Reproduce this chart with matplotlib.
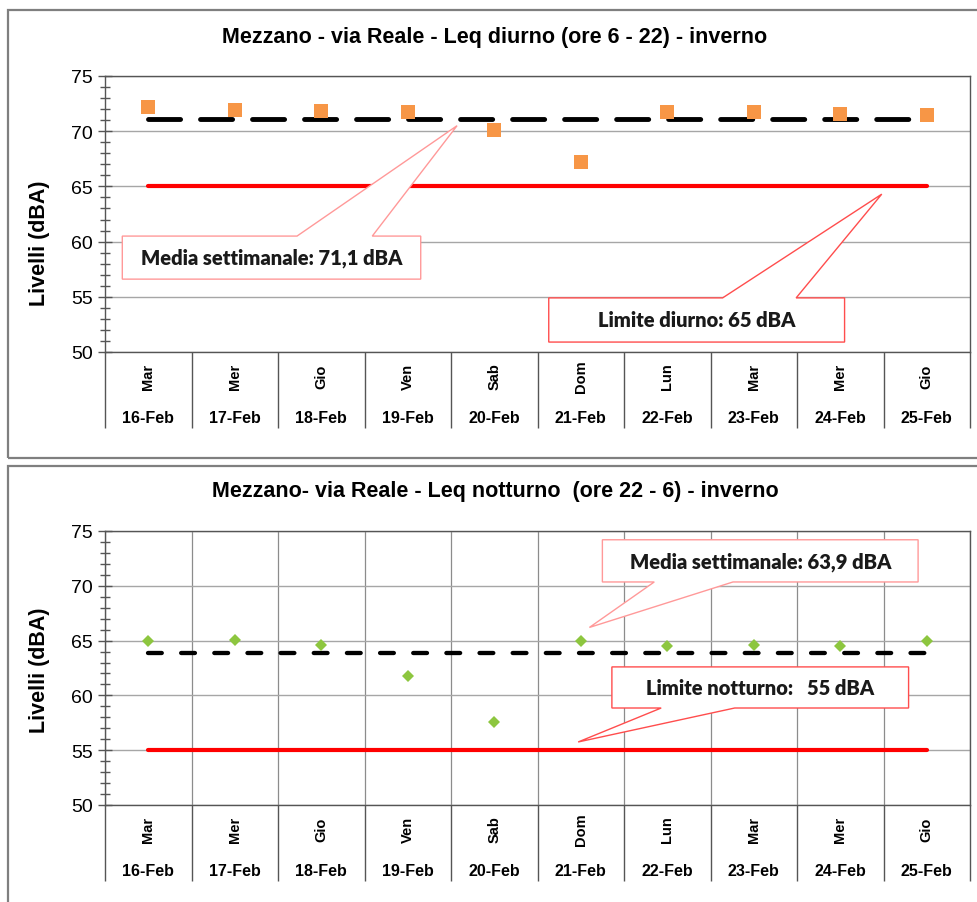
import matplotlib
matplotlib.use("Agg")
import matplotlib.pyplot as plt
from matplotlib.patches import Polygon, Rectangle
from matplotlib.ticker import MultipleLocator, FixedLocator, NullFormatter

# --- dati ---
giorni = ["Mar", "Mer", "Gio", "Ven", "Sab", "Dom", "Lun", "Mar", "Mer", "Gio"]
date = ["16-Feb", "17-Feb", "18-Feb", "19-Feb", "20-Feb",
        "21-Feb", "22-Feb", "23-Feb", "24-Feb", "25-Feb"]

leq_diurno = [72.2, 71.9, 71.8, 71.7, 70.1, 67.2, 71.7, 71.7, 71.6, 71.5]
leq_notturno = [65.0, 65.1, 64.6, 61.8, 57.6, 65.0, 64.5, 64.6, 64.5, 65.0]

media_diurno = 71.1
media_notturno = 63.9
limite_diurno = 65
limite_notturno = 55

W, H = 978, 903
GRID = "#a6a6a6"
AXC = "#7f7f7f"


def fig_xy(px, py):
    return px / W, 1 - py / H


def callout(ax, box, base, tip, side, text, ec):
    x0, x1, yb, yt = box
    if side == "top":
        verts = [(x0, yb), (x1, yb), (x1, yt), (base[1], yt), tip,
                 (base[0], yt), (x0, yt)]
    else:
        verts = [(x0, yb), (base[0], yb), tip, (base[1], yb), (x1, yb),
                 (x1, yt), (x0, yt)]
    ax.add_patch(Polygon(verts, closed=True, facecolor="white",
                         edgecolor=ec, linewidth=1.0, zorder=6))
    ax.text((x0 + x1) / 2, (yb + yt) / 2, text, ha="center", va="center",
            fontsize=14.5, fontweight="heavy", family="Lato", color="#1a1a1a",
            zorder=7)


def setup_axes(ax, vgrid):
    n = len(giorni)
    ax.set_xlim(-0.5, n - 0.5)
    ax.set_ylim(50, 75)
    ax.yaxis.set_major_locator(MultipleLocator(5))
    ax.yaxis.set_minor_locator(MultipleLocator(1))
    ax.tick_params(axis="y", which="major", direction="inout", length=10,
                   width=1, color="#555555", labelsize=14, pad=4)
    ax.tick_params(axis="y", which="minor", direction="inout", length=7,
                   width=1, color="#555555")
    for lab in ax.get_yticklabels():
        lab.set_family("Liberation Sans")

    # separatori tra i giorni sotto l'asse
    bounds = [i - 0.5 for i in range(n + 1)]
    ax.xaxis.set_major_locator(FixedLocator(bounds))
    ax.xaxis.set_major_formatter(NullFormatter())
    ax.tick_params(axis="x", which="major", direction="out", length=55,
                   width=1, color="#555555")

    ax.set_axisbelow(True)
    ax.yaxis.grid(True, color=GRID, linewidth=1.0)
    if vgrid:
        ax.xaxis.grid(True, color="#8c8c8c", linewidth=0.9)
    for s in ax.spines.values():
        s.set_color("#555555")
        s.set_linewidth(1.0)

    for i, (g, d) in enumerate(zip(giorni, date)):
        ax.annotate(g, xy=(i, 0), xycoords=("data", "axes fraction"),
                    xytext=(0, -17), textcoords="offset points",
                    ha="center", va="center", rotation=90,
                    fontsize=10.5, fontweight="bold", family="Liberation Sans")
        ax.annotate(d, xy=(i, 0), xycoords=("data", "axes fraction"),
                    xytext=(0, -47), textcoords="offset points",
                    ha="center", va="center",
                    fontsize=11.5, fontweight="bold", family="Liberation Sans")


def main():
    fig = plt.figure(figsize=(W / 100, H / 100), dpi=100)

    # cornici dei due pannelli
    for (px0, py0, px1, py1) in [(8, 11, 990, 459), (8, 467, 990, 920)]:
        x0, y1 = fig_xy(px0, py0)
        x1, y0 = fig_xy(px1, py1)
        fig.add_artist(Rectangle((x0, y0), x1 - x0, y1 - y0,
                                 transform=fig.transFigure, fill=False,
                                 edgecolor=AXC, linewidth=1.6))

    x = list(range(len(giorni)))
    xl = [x[0], x[-1]]

    # --- diurno ---
    ax1 = fig.add_axes([105 / W, 1 - 353 / H, 865 / W, 276 / H])
    setup_axes(ax1, vgrid=False)
    ax1.plot(xl, [limite_diurno] * 2, color="red", lw=3,
             solid_capstyle="round", zorder=3)
    ax1.plot(xl, [media_diurno] * 2, color="black", lw=3.5,
             dashes=(6.6, 4.1), dash_capstyle="round", zorder=3)
    ax1.plot(x, leq_diurno, linestyle="none", marker="s", markersize=10,
             color="#f79646", markeredgewidth=0, zorder=8)
    callout(ax1, (-0.30, 3.15, 56.6, 60.5), (1.72, 2.59), (3.57, 70.5), "top",
            "Media settimanale: 71,1 dBA", "#ff9999")
    callout(ax1, (4.63, 8.05, 50.9, 54.9), (6.64, 7.49), (8.48, 64.3), "top",
            "Limite diurno: 65 dBA", "#ff4d4d")

    fig.text(*fig_xy(495, 37), "Mezzano - via Reale - Leq diurno (ore 6 - 22) - inverno",
             ha="center", va="center", fontsize=15.5, fontweight="bold",
             family="Liberation Sans")
    fig.text(*fig_xy(40, 243), "Livelli (dBA)", rotation=90, ha="center",
             va="center", fontsize=15.5, fontweight="bold", family="Liberation Sans")

    # --- notturno ---
    ax2 = fig.add_axes([105 / W, 1 - 806 / H, 865 / W, 274 / H])
    setup_axes(ax2, vgrid=True)
    ax2.plot(xl, [limite_notturno] * 2, color="red", lw=3,
             solid_capstyle="round", zorder=3)
    ax2.plot(xl, [media_notturno] * 2, color="black", lw=3.1,
             dashes=(3.2, 4.5), dash_capstyle="round", zorder=3)
    ax2.plot(x, leq_notturno, linestyle="none", marker="D", markersize=6,
             color="#8dc63f", markeredgewidth=0, zorder=8)
    callout(ax2, (5.25, 8.90, 70.35, 74.2), (5.85, 6.76), (5.10, 66.2), "bottom",
            "Media settimanale: 63,9 dBA", "#ff9999")
    callout(ax2, (5.36, 8.79, 58.85, 62.6), (5.93, 6.78), (4.97, 55.75), "bottom",
            "Limite notturno:   55 dBA", "#ff4d4d")

    fig.text(*fig_xy(495, 492), "Mezzano- via Reale - Leq notturno  (ore 22 - 6) - inverno",
             ha="center", va="center", fontsize=15.5, fontweight="bold",
             family="Liberation Sans")
    fig.text(*fig_xy(40, 670), "Livelli (dBA)", rotation=90, ha="center",
             va="center", fontsize=15.5, fontweight="bold", family="Liberation Sans")

    fig.savefig("out.png", dpi=100)
    plt.close(fig)


if __name__ == "__main__":
    main()
